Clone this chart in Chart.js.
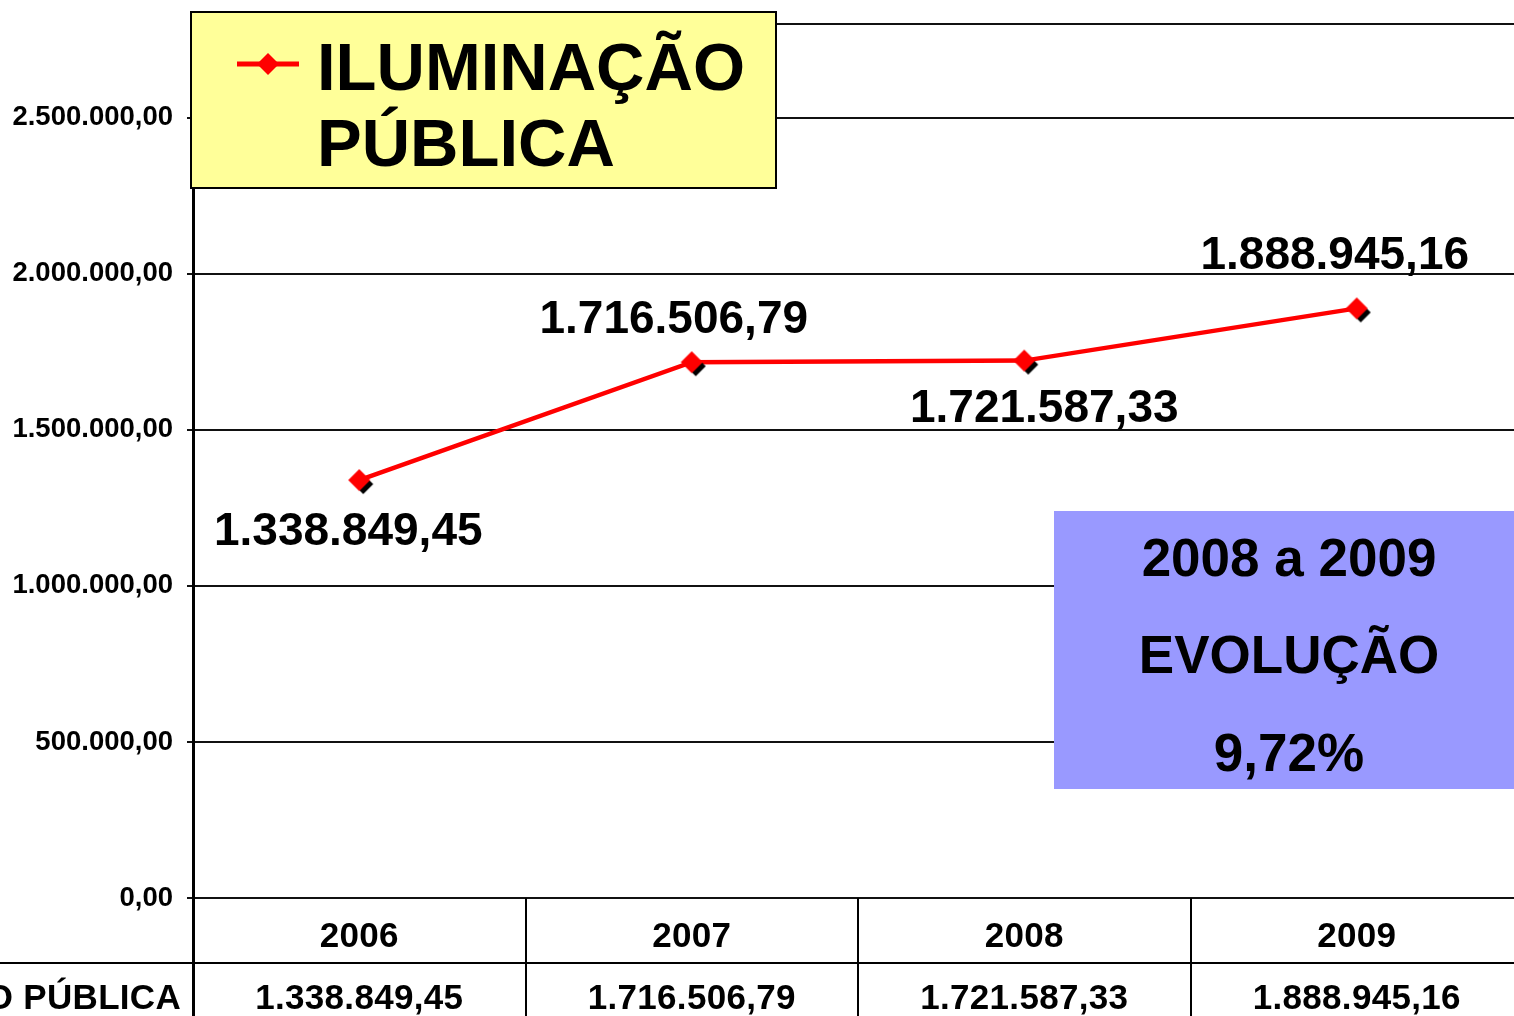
<!DOCTYPE html>
<html>
<head>
<meta charset="utf-8">
<script src="https://cdn.jsdelivr.net/npm/chart.js@4/dist/chart.umd.min.js"></script>
<style>
  body { margin: 0; overflow: hidden; background: #fff; }
  #chart { position: absolute; left: 0; top: 0; }
</style>
</head>
<body>
<canvas id="chart" width="1530" height="1040"></canvas>
<script>
// data
const years = ['2006', '2007', '2008', '2009'];
const iluminacao = [1338849.45, 1716506.79, 1721587.33, 1888945.16];
const yTicks = [0, 500000, 1000000, 1500000, 2000000, 2500000, 2800000];
const yMax = 2800000;
const yStep = 500000;
const seriesName = ['ILUMINAÇÃO', 'PÚBLICA'];
const rowName = 'ILUMINAÇÃO PÚBLICA';
const evolutionText = ['2008 a 2009', 'EVOLUÇÃO', '9,72%'];

const FONT = '"Liberation Sans", Arial, sans-serif';
const RED = '#ff0000';

function fmt(v) {
  const parts = v.toFixed(2).split('.');
  const intPart = parts[0].replace(/\B(?=(\d{3})+(?!\d))/g, '.');
  return intPart + ',' + parts[1];
}

// diamond marker with the black drop shadow
function makeMarker() {
  const c = document.createElement('canvas');
  c.width = 34; c.height = 34;
  const g = c.getContext('2d');
  const diamond = (cx, cy, r, color) => {
    g.fillStyle = color;
    g.beginPath();
    g.moveTo(cx, cy - r); g.lineTo(cx + r, cy); g.lineTo(cx, cy + r); g.lineTo(cx - r, cy);
    g.closePath(); g.fill();
  };
  diamond(21, 21, 10, '#000');
  diamond(17, 17, 11, RED);
  return c;
}

// label offsets from each point (x, baseline)
const labelOffsets = [[-11, 65], [-18, -29], [20, 61], [-22, -39]];

const dataLabels = {
  id: 'dataLabels',
  afterDatasetsDraw(chart) {
    const ctx = chart.ctx;
    const meta = chart.getDatasetMeta(0);
    ctx.save();
    ctx.font = 'bold 46px ' + FONT;
    ctx.fillStyle = '#000';
    ctx.textAlign = 'center';
    ctx.textBaseline = 'alphabetic';
    meta.data.forEach((pt, i) => {
      const off = labelOffsets[i];
      ctx.fillText(fmt(iluminacao[i]), pt.x + off[0], pt.y + off[1]);
    });
    ctx.restore();
  }
};

const dataTable = {
  id: 'dataTable',
  afterDraw(chart) {
    const ctx = chart.ctx;
    const x = chart.scales.x;
    const area = chart.chartArea;
    const H = chart.height;
    ctx.save();
    ctx.strokeStyle = '#000';
    ctx.lineWidth = 2;
    ctx.beginPath();
    ctx.moveTo(0, 963); ctx.lineTo(chart.width, 963);
    for (let i = 0; i < years.length - 1; i++) {
      const bx = Math.round((x.getPixelForValue(i) + x.getPixelForValue(i + 1)) / 2);
      ctx.moveTo(bx, area.bottom); ctx.lineTo(bx, H);
    }
    ctx.stroke();
    ctx.lineWidth = 3;
    ctx.beginPath();
    ctx.moveTo(area.left + 0.5, area.bottom); ctx.lineTo(area.left + 0.5, H);
    ctx.stroke();

    ctx.fillStyle = '#000';
    ctx.font = 'bold 35px ' + FONT;
    ctx.letterSpacing = '0.3px';
    ctx.textAlign = 'center';
    years.forEach((y, i) => {
      const cx = x.getPixelForValue(i);
      ctx.fillText(y, cx, 947);
      ctx.fillText(fmt(iluminacao[i]), cx, 1009);
    });
    ctx.textAlign = 'right';
    ctx.fillText(rowName, 181, 1009);
    ctx.restore();
  }
};

const boxes = {
  id: 'boxes',
  afterDraw(chart) {
    const ctx = chart.ctx;
    ctx.save();
    // legend box
    ctx.fillStyle = '#ffff99';
    ctx.fillRect(191, 12, 585, 176);
    ctx.strokeStyle = '#000';
    ctx.lineWidth = 2;
    ctx.strokeRect(191, 12, 585, 176);
    ctx.strokeStyle = RED;
    ctx.lineWidth = 5;
    ctx.beginPath();
    ctx.moveTo(237, 64); ctx.lineTo(299, 64);
    ctx.stroke();
    ctx.fillStyle = RED;
    ctx.beginPath();
    ctx.moveTo(268, 53); ctx.lineTo(279, 64); ctx.lineTo(268, 75); ctx.lineTo(257, 64);
    ctx.closePath(); ctx.fill();
    ctx.fillStyle = '#000';
    ctx.font = 'bold 67px ' + FONT;
    ctx.textAlign = 'left';
    ctx.fillText(seriesName[0], 317, 90);
    ctx.fillText(seriesName[1], 317, 166);

    // evolution box
    ctx.fillStyle = '#9999ff';
    ctx.fillRect(1054, 511, chart.width - 1054, 278);
    ctx.fillStyle = '#000';
    ctx.font = 'bold 53px ' + FONT;
    ctx.textAlign = 'center';
    ctx.fillText(evolutionText[0], 1289, 576);
    ctx.fillText(evolutionText[1], 1289, 673);
    ctx.fillText(evolutionText[2], 1289, 771);
    ctx.restore();
  }
};

new Chart(document.getElementById('chart'), {
  type: 'line',
  data: {
    labels: years,
    datasets: [{
      label: rowName,
      data: iluminacao,
      borderColor: RED,
      backgroundColor: RED,
      borderWidth: 4.5,
      tension: 0,
      pointStyle: makeMarker(),
      pointRadius: 11,
      pointHoverRadius: 11
    }]
  },
  options: {
    responsive: false,
    animation: false,
    events: [],
    layout: { autoPadding: false, padding: { top: 24, right: 7, left: 0, bottom: 0 } },
    plugins: { legend: { display: false }, tooltip: { enabled: false } },
    scales: {
      x: {
        offset: true,
        grid: { display: false },
        border: { display: false },
        ticks: { display: false },
        afterFit(s) { s.height = 142; s.paddingLeft = 0; s.paddingRight = 0; }
      },
      y: {
        min: 0,
        max: yMax,
        afterBuildTicks(s) { s.ticks = yTicks.map(v => ({ value: v })); },
        ticks: {
          padding: 14,
          autoSkip: false,
          color: '#000',
          font: { family: FONT, size: 27.5, weight: 'bold' },
          callback: v => (v % yStep === 0 ? fmt(v) : '')
        },
        grid: {
          color: '#111',
          lineWidth: 2,
          tickLength: 6,
          tickColor: c => (c.tick && c.tick.value % yStep === 0 ? '#111' : 'rgba(0,0,0,0)')
        },
        border: { display: true, color: '#000', width: 3 },
        afterFit(s) { s.width = 193; s.paddingTop = 0; s.paddingBottom = 0; }
      }
    }
  },
  plugins: [dataLabels, dataTable, boxes]
});
</script>
</body>
</html>
